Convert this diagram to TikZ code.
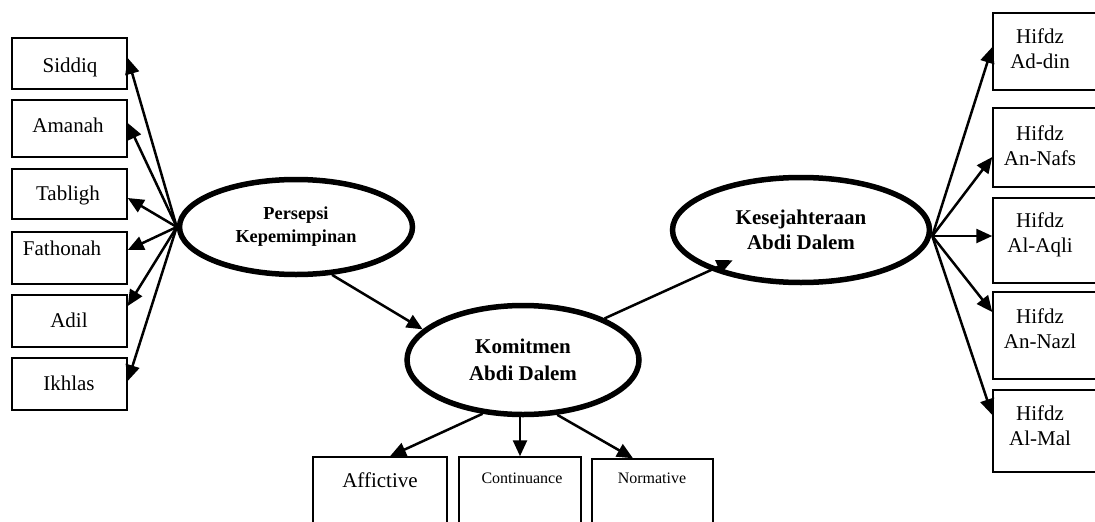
\documentclass[tikz,border=0pt]{standalone}
\usepackage{fontspec}
\setmainfont{Liberation Serif}
\usetikzlibrary{arrows.meta,shapes.geometric}
\begin{document}
\begin{tikzpicture}[x=1pt,y=-1pt,
  box/.style={draw, line width=1.5pt, inner sep=0pt},
  lat/.style={draw, ellipse, line width=5.5pt, inner sep=0pt, align=center},
  lbl/.style={inner sep=0pt, anchor=base, font=\fontsize{21}{25}\selectfont},
  small/.style={inner sep=0pt, anchor=base, font=\fontsize{16}{20}\selectfont},
  two/.style={inner sep=0pt, anchor=north, align=center, font=\fontsize{21}{25}\selectfont},
  arr/.style={line width=2.5pt, -{Triangle[length=16pt,width=14pt]}}]
\useasboundingbox (0,0) rectangle (1095,522);
\clip (0,0) rectangle (1095,522);

% left indicator boxes
\node[box, minimum width=115pt, minimum height=51pt] (sid) at (69.5,63.5) {};
\node[box, minimum width=115pt, minimum height=57pt] (ama) at (69.5,128.5) {};
\node[box, minimum width=115pt, minimum height=50pt] (tab) at (69.5,194) {};
\node[box, minimum width=115pt, minimum height=52pt] (fat) at (69.5,258) {};
\node[box, minimum width=115pt, minimum height=52pt] (adi) at (69.5,321) {};
\node[box, minimum width=115pt, minimum height=52pt] (ikh) at (69.5,384) {};
\node[lbl] (tsid) at (70,72) {Siddiq};
\node[lbl] (tama) at (68,132) {Amanah};
\node[lbl] (ttab) at (68,200) {Tabligh};
\node[lbl] (tfat) at (62,255) {Fathonah};
\node[lbl] (tadi) at (69,327) {Adil};
\node[lbl] (tikh) at (69,390) {Ikhlas};

% right indicator boxes
\node[box, minimum width=117pt, minimum height=77pt] (din) at (1051.5,51.5) {};
\node[box, minimum width=117pt, minimum height=79pt] (naf) at (1051.5,147.5) {};
\node[box, minimum width=117pt, minimum height=85pt] (aql) at (1051.5,240.5) {};
\node[box, minimum width=117pt, minimum height=87pt] (naz) at (1051.5,335.5) {};
\node[box, minimum width=117pt, minimum height=82pt] (mal) at (1051.5,431) {};
\node[two] (tdin) at (1040,28.6) {Hifdz\\Ad-din};
\node[two] (tnaf) at (1040,125.6) {Hifdz\\An-Nafs};
\node[two] (taql) at (1040,212.6) {Hifdz\\Al-Aqli};
\node[two] (tnaz) at (1040,308.6) {Hifdz\\An-Nazl};
\node[two] (tmal) at (1040,405.6) {Hifdz\\Al-Mal};

% bottom indicator boxes
\node[box, minimum width=134pt, minimum height=83pt] (aff) at (380,498.5) {};
\node[box, minimum width=122pt, minimum height=83pt] (con) at (520,498.5) {};
\node[box, minimum width=121pt, minimum height=81pt] (nor) at (652.5,499.5) {};
\node[lbl] (taff) at (380,487) {Affictive};
\node[small] (tcon) at (522,483) {Continuance};
\node[small] (tnor) at (652,483) {Normative};

% latent variables
\node[lat, minimum width=233pt, minimum height=95pt,
      font=\fontsize{18.3}{23}\selectfont\bfseries] (per) at (296,227)
      {Persepsi\\Kepemimpinan};
\node[lat, minimum width=232pt, minimum height=109pt,
      font=\fontsize{21}{27}\selectfont\bfseries] (kom) at (523,360)
      {Komitmen\\Abdi Dalem};
\node[lat, minimum width=257pt, minimum height=105pt,
      font=\fontsize{21}{25}\selectfont\bfseries] (kes) at (801,230)
      {Kesejahteraan\\Abdi Dalem};

% arrows: Persepsi -> left indicators
\draw[arr] (per.west) -- ([yshift=5.5pt]sid.east);
\draw[arr] (per.west) -- ([yshift=5.5pt]ama.east);
\draw[arr] (per.west) -- ([yshift=-4pt]tab.east);
\draw[arr] (per.west) -- ([yshift=8pt]fat.east);
\draw[arr] (per.west) -- ([yshift=15pt]adi.east);
\draw[arr] (per.west) -- ([yshift=3pt]ikh.east);

% structural arrows
\draw[arr] (per.-53.5) -- (kom.163);
\draw[arr, shorten >=-24pt] (kom.27) -- (kes.204);

% Kesejahteraan -> right indicators
\draw[arr] ([yshift=-6pt]kes.east) -- ([yshift=4.5pt]din.west);
\draw[arr] ([yshift=-6pt]kes.east) -- ([yshift=-9.5pt]naf.west);
\draw[arr] ([yshift=-6pt]kes.east) -- ([yshift=-6pt]kes.east -| aql.west);
\draw[arr] ([yshift=-6pt]kes.east) -- ([yshift=23.5pt]naz.west);
\draw[arr] ([yshift=-6pt]kes.east) -- ([yshift=16pt]mal.west);

% Komitmen -> bottom indicators
\draw[arr] (kom.-127) -- ([xshift=10pt]aff.north);
\draw[arr] (kom.south -| con.north) -- (con.north);
\draw[arr] (kom.-58) -- ([xshift=-19.5pt]nor.north);
\end{tikzpicture}
\end{document}
